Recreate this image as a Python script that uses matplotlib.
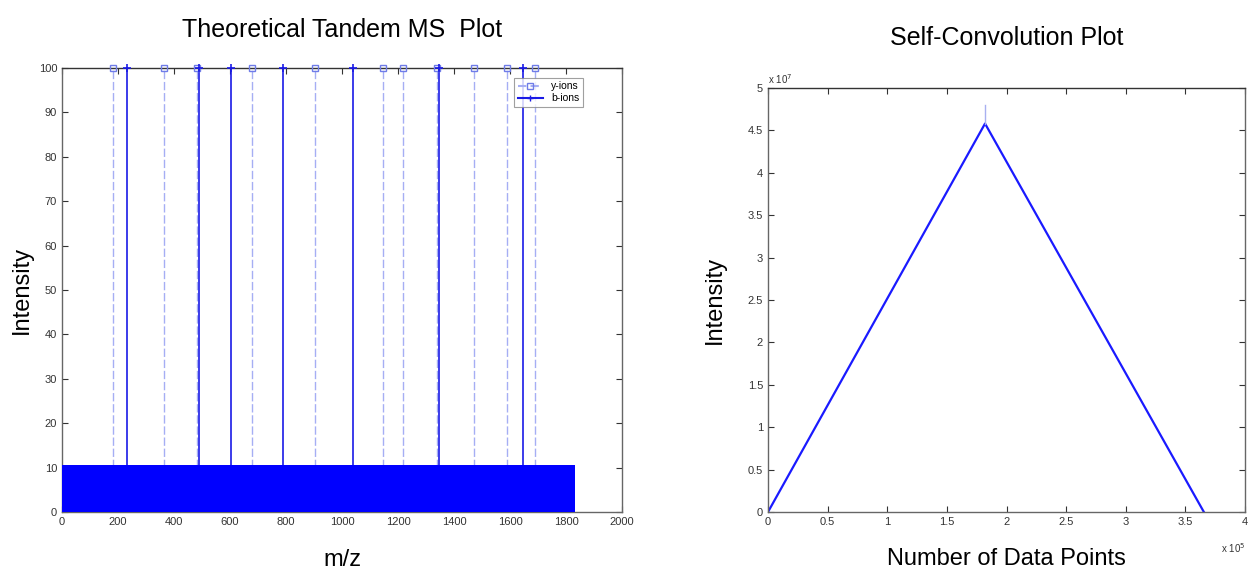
import matplotlib
matplotlib.use("Agg")
import matplotlib.pyplot as plt
import numpy as np

plt.rcParams['font.family'] = ['Liberation Sans', 'DejaVu Sans']

# theoretical fragment ions (m/z), all at full intensity
y_ions = [181, 363, 482, 677, 903, 1147, 1219, 1338, 1472, 1588, 1688]
b_ions = [232, 491, 605, 788, 1039, 1345, 1648]
ion_intensity = 100

# noise floor under the spectrum
noise_mz = [0, 1832]
noise_top = [10.6, 10.6]

# self-convolution triangle (x in 1e5 points, y in 1e7)
conv_x = [0, 1.82, 3.655]
conv_y = [0, 4.58, 0]
spike_x = [1.82, 1.82]
spike_y = [4.58, 4.80]

fig = plt.figure(figsize=(12.5, 5.73), dpi=100)
ax1 = fig.add_axes([0.0496, 0.1065, 0.448, 0.7748])
ax2 = fig.add_axes([0.6144, 0.1065, 0.3816, 0.7400])

def matlab_axes(ax):
    for s in ax.spines.values():
        s.set_color('#666666')
        s.set_linewidth(1.0)
    ax.spines['top'].set_color('#333333')
    ax.tick_params(direction='in', top=True, right=True, labelsize=8,
                   colors='#333333', length=4, width=0.8)

# left: tandem MS
ax1.fill_between(noise_mz, 0, noise_top, color='#0000ff', lw=0, zorder=3)
ax1.vlines(y_ions, 0, ion_intensity, colors='#a6aef4', linestyles=(0, (6, 2)), lw=1.0, zorder=2)
ax1.vlines(b_ions, 0, ion_intensity, colors='#1a1ae6', lw=1.2, zorder=2)
ax1.plot(y_ions, [ion_intensity] * len(y_ions), ls='none', marker='s', ms=5,
         mfc='none', mec='#6f7ce8', mew=1.0, clip_on=False, zorder=4)
ax1.plot(b_ions, [ion_intensity] * len(b_ions), ls='none', marker='+', ms=6,
         mec='#1a1ae6', mew=1.2, clip_on=False, zorder=4)
ax1.plot([], [], color='#a6aef4', ls=(0, (4, 2)), marker='s', ms=4, mfc='none',
         mec='#6f7ce8', label='y-ions')
ax1.plot([], [], color='#1a1ae6', marker='+', ms=5, label='b-ions')
ax1.set_xlim(0, 2000)
ax1.set_ylim(0, 100)
ax1.set_xticks(np.arange(0, 2001, 200))
ax1.set_yticks(np.arange(0, 101, 10))
matlab_axes(ax1)
leg = ax1.legend(loc='upper right', bbox_to_anchor=(0.94, 0.99), fontsize=7.5,
                 frameon=True, fancybox=False, handlelength=2.4,
                 borderpad=0.35, labelspacing=0.2)
leg.get_frame().set_edgecolor('#888888')
leg.get_frame().set_linewidth(0.8)
ax1.set_title('Theoretical Tandem MS  Plot', fontsize=18, pad=22)
ax1.set_ylabel('Intensity', fontsize=17, labelpad=4)
ax1.set_xlabel('m/z', fontsize=17, labelpad=16)

# right: self-convolution
ax2.plot(conv_x, conv_y, color='#1a1aff', lw=1.6)
ax2.plot(spike_x, spike_y, color='#a8b0f0', lw=1.0)
ax2.set_xlim(0, 4)
ax2.set_ylim(0, 5)
ax2.set_xticks(np.arange(0, 4.01, 0.5))
ax2.set_yticks(np.arange(0, 5.01, 0.5))
ax2.set_xticklabels(['0', '0.5', '1', '1.5', '2', '2.5', '3', '3.5', '4'])
ax2.set_yticklabels(['0', '0.5', '1', '1.5', '2', '2.5', '3', '3.5', '4', '4.5', '5'])
matlab_axes(ax2)
ax2.text(0.0, 1.005, 'x 10$^7$', transform=ax2.transAxes, fontsize=7,
         color='#333333', va='bottom', ha='left')
ax2.text(1.0, -0.07, 'x 10$^5$', transform=ax2.transAxes, fontsize=7,
         color='#333333', va='top', ha='right')
ax2.set_title('Self-Convolution Plot', fontsize=18, pad=31)
ax2.set_ylabel('Intensity', fontsize=17, labelpad=16)
ax2.set_xlabel('Number of Data Points', fontsize=17, labelpad=15)

fig.savefig('out.png', dpi=100)
